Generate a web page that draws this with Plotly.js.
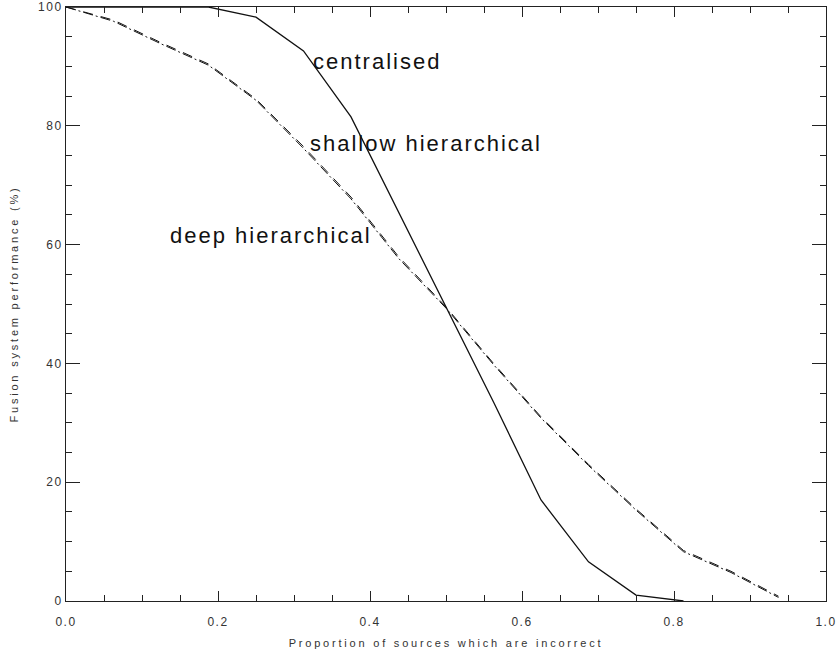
<!DOCTYPE html>
<html>
<head>
<meta charset="utf-8">
<script src="https://cdn.plot.ly/plotly-3.0.1.min.js"></script>
<style>
  html, body { margin: 0; padding: 0; background: #fff; }
  #chart { width: 840px; height: 654px; }
  .annotation-text { letter-spacing: 2px; }
  .xtitle, .ytitle { letter-spacing: 2.8px; }
  .xtick text, .ytick text { letter-spacing: 1.5px; }
</style>
</head>
<body>
<div id="chart"></div>
<script>
// Proportion of sources which are incorrect
const xValues = [0, 0.0625, 0.125, 0.1875, 0.25, 0.3125, 0.375, 0.4375, 0.5, 0.5625, 0.625, 0.6875, 0.75, 0.8125, 0.875, 0.9375];

// Fusion system performance (%)
const centralisedX = [0, 0.0625, 0.125, 0.1875, 0.25, 0.3125, 0.375, 0.4375, 0.5, 0.5625, 0.625, 0.6875, 0.75, 0.8125];
const centralised  = [100, 100, 100, 100, 98.3, 92.6, 81.5, 65.5, 49.5, 33.5, 17, 6.6, 1.0, 0];
const shallowHierarchical = [100, 97.8, 94.0, 90.4, 84.5, 76.5, 68.0, 58.0, 49.5, 40.0, 31.0, 23.0, 15.5, 8.5, 5.0, 0.8];
const deepHierarchical    = [100, 97.6, 93.8, 90.2, 84.3, 76.2, 67.7, 57.7, 49.3, 39.8, 30.8, 22.8, 15.3, 8.3, 4.8, 0.6];

const xTickVals = [0, 0.2, 0.4, 0.6, 0.8, 1.0];
const xTickText = ['0.0', '0.2', '0.4', '0.6', '0.8', '1.0'];
const yTickVals = [0, 20, 40, 60, 80, 100];
const yTickText = ['0', '20', '40', '60', '80', '100'];

const labels = ['centralised', 'shallow hierarchical', 'deep hierarchical'];
const labelX = [0.322, 0.318, 0.134];
const labelY = [90.9, 77.1, 61.5];

const lineColor = '#111';

const traces = [
  { x: centralisedX, y: centralised, mode: 'lines', name: labels[0],
    line: { color: lineColor, width: 1.3, dash: 'solid' } },
  { x: xValues, y: shallowHierarchical, mode: 'lines', name: labels[1],
    line: { color: lineColor, width: 1.0, dash: '10px,8px' } },
  { x: xValues, y: deepHierarchical, mode: 'lines', name: labels[2],
    line: { color: lineColor, width: 1.0, dash: '10px,3px,2px,3px' } }
];

const tickFont = { family: '"Liberation Sans", Arial, sans-serif', size: 12, color: '#333' };
const titleFont = { family: '"Liberation Sans", Arial, sans-serif', size: 11, color: '#333' };

const layout = {
  width: 840, height: 654,
  margin: { l: 66, r: 14, t: 7, b: 53 },
  paper_bgcolor: '#fff', plot_bgcolor: '#fff',
  showlegend: false,
  xaxis: {
    range: [0, 1], tickvals: xTickVals, ticktext: xTickText,
    ticks: 'inside', ticklen: 10, tickwidth: 1, tickcolor: '#222',
    minor: { dtick: 0.05, tick0: 0, ticks: 'inside', ticklen: 6, tickwidth: 1, tickcolor: '#222' },
    showline: true, linecolor: '#222', linewidth: 1, mirror: 'ticks',
    showgrid: false, zeroline: false, tickfont: tickFont,
    ticklabelstandoff: 10, ticklabeloverflow: 'allow',
    title: { text: 'Proportion of sources which are incorrect', font: titleFont, standoff: 10 }
  },
  yaxis: {
    range: [0, 100], tickvals: yTickVals, ticktext: yTickText,
    ticks: 'inside', ticklen: 14, tickwidth: 1, tickcolor: '#222',
    minor: { dtick: 5, tick0: 0, ticks: 'inside', ticklen: 6, tickwidth: 1, tickcolor: '#222' },
    showline: true, linecolor: '#222', linewidth: 1, mirror: 'ticks',
    showgrid: false, zeroline: false, tickfont: tickFont,
    ticklabeloverflow: 'allow',
    title: { text: 'Fusion system performance (%)', font: titleFont, standoff: 17 }
  },
  annotations: labels.map((t, i) => ({
    x: labelX[i], y: labelY[i], xref: 'x', yref: 'y',
    text: t, showarrow: false, xanchor: 'left', yanchor: 'middle',
    font: { family: '"Liberation Sans", Arial, sans-serif', size: 22, color: '#111' }
  }))
};

Plotly.newPlot('chart', traces, layout, { staticPlot: true, displayModeBar: false });
</script>
</body>
</html>
